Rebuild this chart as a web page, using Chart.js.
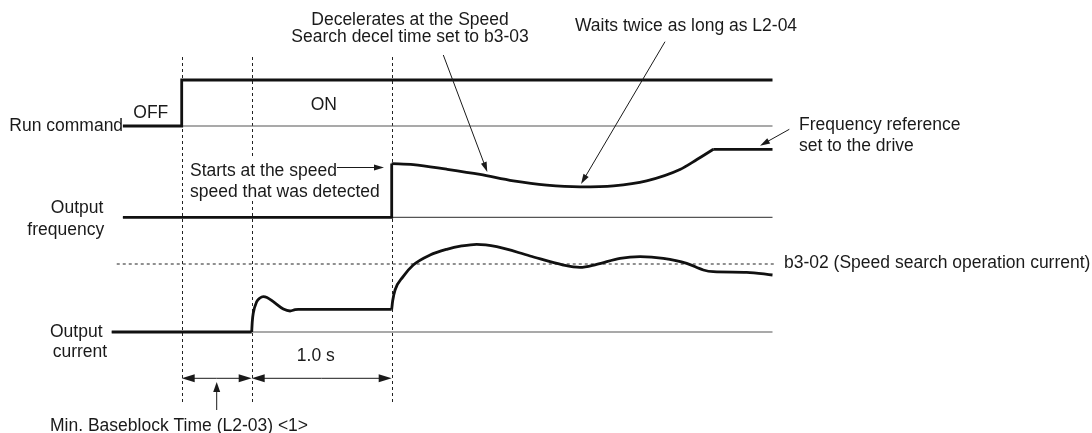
<!DOCTYPE html>
<html>
<head>
<meta charset="utf-8">
<script src="https://cdn.jsdelivr.net/npm/chart.js@4.4.1/dist/chart.umd.min.js"></script>
<style>
  html, body { margin: 0; padding: 0; background: #fff; }
  canvas { display: block; }
</style>
</head>
<body>
<canvas id="myChart" width="1092" height="433"></canvas>
<script>
// time in seconds (0 = run command ON), levels in % unless noted
const runTime = [-0.42, 0, 0, 4.22];
const runLevel = [0, 0, 1, 1]; // 0 = OFF, 1 = ON

// Output frequency, % of frequency reference
const freqStepTime = [-0.42, 1.5, 1.5];
const freqStepLevel = [0, 0, 79];
const freqDecelTime = [1.5, 1.654, 1.893, 2.131, 2.369, 2.607, 2.845, 3.084, 3.321, 3.559, 3.68, 3.797];
const freqDecelLevel = [79, 77.6, 70.7, 63.0, 53.6, 47.3, 44.8, 46.3, 53.6, 70.3, 84.9, 100];
const freqRefTime = [3.797, 4.22];
const freqRefLevel = [100, 100];

// Output current, % of b3-02
const curOffTime = [-0.5, 0.5];
const curOffLevel = [0, 0];
const curFirstTime = [0.5, 0.504, 0.511, 0.536, 0.559, 0.583, 0.609, 0.654, 0.726, 0.774, 0.81, 0.833, 1.5];
const curFirstLevel = [0, 15, 27.5, 44.6, 50, 51.9, 50.7, 44.6, 33.8, 30.9, 32.8, 33.4, 33.4];
const curSearchTime = [1.5, 1.507, 1.524, 1.58, 1.654, 1.774, 1.893, 2.0, 2.107, 2.25, 2.488, 2.726, 2.845, 2.964, 3.131, 3.274, 3.44, 3.607, 3.726, 3.797, 4.036, 4.22];
const curSearchLevel = [33.4, 46, 61.8, 81, 98.5, 113.2, 121.6, 126.5, 129, 125.5, 111.8, 98.5, 95.1, 99.5, 108.3, 110.8, 108.3, 101, 91.2, 88.7, 87.8, 83.8];

// reference lines
const baseRunTime = [-0.42, 4.22];
const baseFreqTime = [-0.42, 4.22];
const baseCurTime = [-0.5, 4.22];
const b302Time = [-0.464, 4.25];
const b302Level = [100, 100];

// dashed guides: run ON, end of min. baseblock, end of 1.0 s
const guideTimes = [0, 0.5, 1.5];

const W = 1092, H = 433;
const PX_PER_SEC = 140, T0_PX = 181.7;

function toPoints(ts, vs) {
  return ts.map((t, i) => ({ x: t, y: vs[i] }));
}

// y axis placed so that 0 sits at basePx, with pxPerUnit scale
function fitAxis(basePx, pxPerUnit) {
  return { type: 'linear', display: false, min: -(H - basePx) / pxPerUnit, max: basePx / pxPerUnit };
}

function trace(pts, axis, curved) {
  return {
    data: pts, yAxisID: axis,
    borderColor: '#111', borderWidth: 2.8, pointRadius: 0,
    tension: 0, cubicInterpolationMode: curved ? 'monotone' : 'default',
    borderJoinStyle: 'miter', borderCapStyle: 'butt'
  };
}

function thin(pts, axis, dash) {
  return {
    data: pts, yAxisID: axis,
    borderColor: dash ? '#222' : '#555', borderWidth: dash ? 1 : 1.2, pointRadius: 0,
    borderDash: dash ? [3, 3] : []
  };
}

function arrow(ctx, x1, y1, x2, y2, len, half) {
  const a = Math.atan2(y2 - y1, x2 - x1);
  ctx.beginPath();
  ctx.moveTo(x1, y1);
  ctx.lineTo(x2 - Math.cos(a) * len * 0.8, y2 - Math.sin(a) * len * 0.8);
  ctx.stroke();
  ctx.beginPath();
  ctx.moveTo(x2, y2);
  ctx.lineTo(x2 - Math.cos(a) * len - Math.sin(a) * half, y2 - Math.sin(a) * len + Math.cos(a) * half);
  ctx.lineTo(x2 - Math.cos(a) * len + Math.sin(a) * half, y2 - Math.sin(a) * len - Math.cos(a) * half);
  ctx.closePath();
  ctx.fill();
}

const overlay = {
  id: 'overlay',
  beforeDatasetsDraw(chart) {
    const ctx = chart.ctx;
    const x = chart.scales.x;
    ctx.save();
    ctx.strokeStyle = '#222';
    ctx.lineWidth = 1;
    ctx.setLineDash([3, 3]);
    for (const t of guideTimes) {
      const px = Math.round(x.getPixelForValue(t)) + 0.5;
      ctx.beginPath();
      ctx.moveTo(px, 57);
      ctx.lineTo(px, 403);
      ctx.stroke();
    }
    ctx.restore();
  },
  afterDatasetsDraw(chart) {
    const ctx = chart.ctx;
    const x = chart.scales.x;
    ctx.save();

    // blank the guide behind the "Starts at..." note
    ctx.fillStyle = '#fff';
    ctx.fillRect(188, 158, 194, 42);

    ctx.fillStyle = '#1a1a1a';
    ctx.strokeStyle = '#1a1a1a';
    ctx.font = '17.5px "Liberation Sans", Arial, sans-serif';
    const texts = [
      ['Decelerates at the Speed', 410, 25, 'center'],
      ['Search decel time set to b3-03', 410, 42, 'center'],
      ['Waits twice as long as L2-04', 575, 30.8, 'left'],
      ['OFF', 133.3, 118, 'left'],
      ['ON', 323.8, 110, 'center'],
      ['Run command', 9.3, 130.8, 'left'],
      ['Frequency reference', 799, 129.8, 'left'],
      ['set to the drive', 799, 150.7, 'left'],
      ['Starts at the speed', 190, 176, 'left'],
      ['speed that was detected', 190, 197.3, 'left'],
      ['Output', 50.8, 212.7, 'left'],
      ['frequency', 27.3, 235, 'left'],
      ['b3-02 (Speed search operation current)', 784, 267.5, 'left'],
      ['Output', 50, 336.5, 'left'],
      ['current', 52.7, 356.7, 'left'],
      ['1.0 s', 315.8, 360.8, 'center'],
      ['Min. Baseblock Time (L2-03) <1>', 50, 431, 'left']
    ];
    for (const [s, tx, ty, align] of texts) {
      ctx.textAlign = align;
      ctx.fillText(s, tx, ty);
    }

    // note arrows
    ctx.lineWidth = 1;
    arrow(ctx, 443.3, 55, 487.3, 172, 10, 3);
    arrow(ctx, 665, 41.7, 581, 184, 10, 3);
    arrow(ctx, 789.3, 129.3, 760, 145.7, 10, 3);
    arrow(ctx, 337, 167.5, 384, 167.5, 10, 3);

    // dimension arrows between guides
    const dimY = 378.3;
    for (let i = 0; i < guideTimes.length - 1; i++) {
      const a = x.getPixelForValue(guideTimes[i]);
      const b = x.getPixelForValue(guideTimes[i + 1]);
      const mid = (a + b) / 2;
      arrow(ctx, mid, dimY, a, dimY, 13, 4);
      arrow(ctx, mid, dimY, b, dimY, 13, 4);
    }
    const upX = x.getPixelForValue((guideTimes[0] + guideTimes[1]) / 2);
    arrow(ctx, upX, 410, upX, 382, 10, 3.5);

    ctx.restore();
  }
};

new Chart(document.querySelector('#myChart'), {
  type: 'line',
  data: {
    datasets: [
      trace(toPoints(runTime, runLevel), 'yRun', false),
      trace(toPoints(freqStepTime, freqStepLevel), 'yFreq', false),
      trace(toPoints(freqDecelTime, freqDecelLevel), 'yFreq', true),
      trace(toPoints(freqRefTime, freqRefLevel), 'yFreq', false),
      trace(toPoints(curOffTime, curOffLevel), 'yCur', false),
      trace(toPoints(curFirstTime, curFirstLevel), 'yCur', true),
      trace(toPoints(curSearchTime, curSearchLevel), 'yCur', true),
      thin(toPoints(baseRunTime, [0, 0]), 'yRun', false),
      thin(toPoints(baseFreqTime, [0, 0]), 'yFreq', false),
      thin(toPoints(baseCurTime, [0, 0]), 'yCur', false),
      thin(toPoints(b302Time, b302Level), 'yCur', true)
    ]
  },
  options: {
    responsive: false,
    animation: false,
    events: [],
    layout: { padding: 0 },
    plugins: { legend: { display: false }, tooltip: { enabled: false } },
    scales: {
      x: { type: 'linear', display: false, min: -T0_PX / PX_PER_SEC, max: (W - T0_PX) / PX_PER_SEC },
      yRun: fitAxis(126, 46),
      yFreq: fitAxis(217.3, 0.68),
      yCur: fitAxis(332, 0.68)
    }
  },
  plugins: [overlay]
});
</script>
</body>
</html>
